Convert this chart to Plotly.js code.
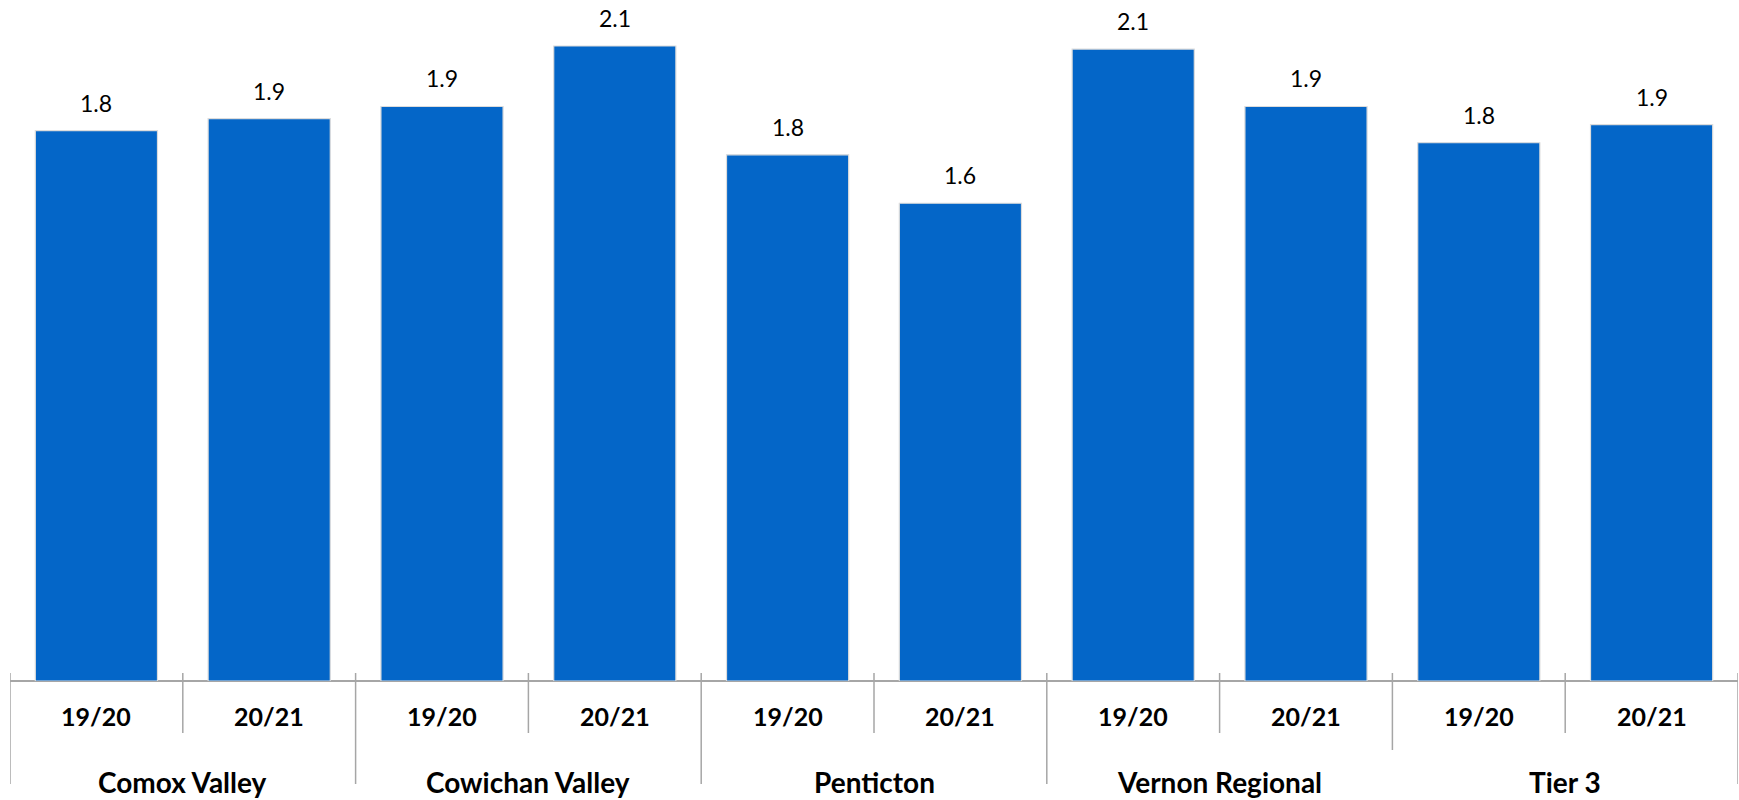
<!DOCTYPE html>
<html>
<head>
<meta charset="utf-8">
<script src="https://cdn.plot.ly/plotly-3.0.1.min.js"></script>
<style>html,body{margin:0;padding:0;background:#fff;}#chart{width:1739px;height:800px;}</style>
</head>
<body>
<div id="chart"></div>
<script>
// ---- data ----
var groups = ["Comox Valley", "Cowichan Valley", "Penticton", "Vernon Regional", "Tier 3"];
var years = ["19/20", "20/21"];
// bar heights
var values = [1.82, 1.86, 1.90, 2.10, 1.74, 1.58, 2.09, 1.90, 1.78, 1.84];
// data labels as printed on the chart
var labels = ["1.8", "1.9", "1.9", "2.1", "1.8", "1.6", "2.1", "1.9", "1.8", "1.9"];

// ---- build ----
var n = values.length;
var xs = [], yearText = [];
for (var i = 0; i < n; i++) { xs.push(i); yearText.push(years[i % years.length]); }

var FONT = "Lato, 'Open Sans', Arial, sans-serif";
var AXC = "#a6a6a6";

var annotations = [];
// value labels
for (var i = 0; i < n; i++) {
  annotations.push({x: xs[i], y: values[i], xref: "x", yref: "y", text: labels[i],
    showarrow: false, yanchor: "bottom", yshift: 12,
    font: {family: FONT, size: 23, color: "#000"}});
}
// year labels
for (var i = 0; i < n; i++) {
  annotations.push({x: xs[i], y: 0, xref: "x", yref: "y", text: "<b>" + yearText[i] + "</b>",
    showarrow: false, yanchor: "middle", yshift: -35,
    font: {family: FONT, size: 25, color: "#000"}});
}
// group labels
var per = years.length;
for (var g = 0; g < groups.length; g++) {
  annotations.push({x: g * per + (per - 1) / 2, y: 0, xref: "x", yref: "y",
    text: "<b>" + groups[g] + "</b>", showarrow: false, yanchor: "middle", yshift: -101,
    font: {family: FONT, size: 28, color: "#000"}});
}

// tick / divider lines at category boundaries
var shapes = [];
for (var b = 0; b <= n; b++) {
  var isGroup = (b % per === 0);
  var len;
  if (!isGroup) len = 52;
  else if (b === (groups.length - 1) * per) len = 69;
  else len = 103;
  shapes.push({type: "line", xref: "x", yref: "paper", x0: b - 0.5, x1: b - 0.5,
    ysizemode: "pixel", yanchor: 0, y0: 8, y1: -len,
    line: {color: AXC, width: 1.5}});
}

var trace = {
  type: "bar", x: xs, y: values, width: 0.707,
  marker: {color: "#0466c8", line: {color: "#dcdcdc", width: 1.2}},
  hoverinfo: "skip"
};

var layout = {
  width: 1739, height: 800,
  margin: {l: 10, r: 1, t: 20, b: 119},
  paper_bgcolor: "#fff", plot_bgcolor: "#fff",
  showlegend: false,
  xaxis: {range: [-0.5, n - 0.5], showticklabels: false, ticks: "", showgrid: false,
    zeroline: false, showline: false, fixedrange: true},
  yaxis: {range: [0, 2.186], showticklabels: false, showgrid: false, zeroline: true,
    zerolinecolor: AXC, zerolinewidth: 1.5, showline: false, ticks: ""},
  annotations: annotations,
  shapes: shapes
};

Plotly.newPlot("chart", [trace], layout, {displayModeBar: false, staticPlot: true});
</script>
</body>
</html>
